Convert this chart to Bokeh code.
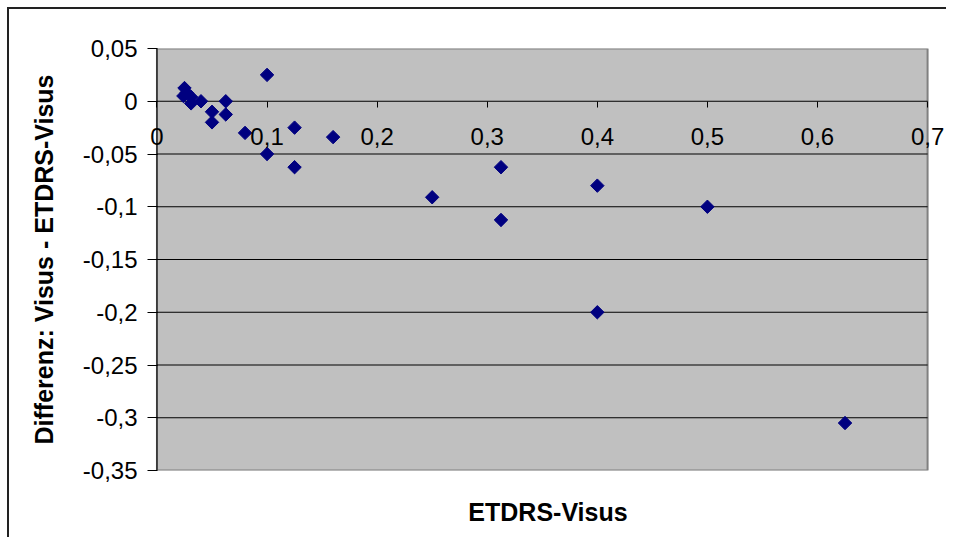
import math
from bokeh.plotting import figure
from bokeh.models import LinearAxis, FixedTicker, CustomJSTickFormatter, Range1d, Label
from bokeh.embed import file_html
from bokeh.resources import INLINE

# ---- data ----
etdrs_visus = [0.1, 0.025, 0.027, 0.024, 0.031, 0.031, 0.04, 0.0625, 0.05, 0.0625,
               0.05, 0.08, 0.1, 0.125, 0.125, 0.16, 0.25, 0.3125, 0.3125, 0.4,
               0.4, 0.5, 0.625]
differenz = [0.025, 0.0125, 0.008, 0.005, 0.004, -0.002, 0.0, 0.0, -0.01, -0.0125,
             -0.02, -0.03, -0.05, -0.025, -0.0625, -0.034, -0.091, -0.0625, -0.1125, -0.08,
             -0.2, -0.1, -0.305]

x_ticks = [0, 0.1, 0.2, 0.3, 0.4, 0.5, 0.6, 0.7]
x_tick_labels = ["0", "0,1", "0,2", "0,3", "0,4", "0,5", "0,6", "0,7"]
y_ticks = [0.05, 0, -0.05, -0.1, -0.15, -0.2, -0.25, -0.3, -0.35]

x_title = "ETDRS-Visus"
y_title = "Differenz: Visus - ETDRS-Visus"

x_min, x_max = 0.0, 0.7
y_min, y_max = -0.35, 0.05

FONT = "Liberation Sans"
fmt = CustomJSTickFormatter(code="""
let s = tick.toFixed(2);
s = s.replace(/0+$/, '').replace(/\\.$/, '');
if (s === '-0' || s === '') s = '0';
return s.replace('.', ',');
""")

p = figure(width=939, height=530, output_backend="svg", toolbar_location=None,
           x_range=Range1d(-0.0086, 0.719), y_range=Range1d(y_min, y_max),
           min_border_left=138, min_border_top=39, min_border_right=0, min_border_bottom=69,
           background_fill_color="white", border_fill_color="white",
           outline_line_color=None)
p.styles = {"margin": "7px 0 0 7px",
            "border-left": "2px solid #222222", "border-top": "2px solid #222222"}

p.xgrid.visible = False
p.ygrid.visible = False

# plot area
p.quad(left=[x_min], right=[x_max], bottom=[y_min], top=[y_max],
       fill_color="#C0C0C0", line_color="#808080", line_width=2)
inner = y_ticks[1:-1]
p.segment(x0=[x_min] * len(inner), y0=inner, x1=[x_max] * len(inner), y1=inner,
          line_color="black", line_width=1)
p.segment(x0=[x_min], y0=[y_min], x1=[x_min], y1=[y_max], line_color="black", line_width=1)

# y axis
ya = p.yaxis[0]
ya.ticker = FixedTicker(ticks=y_ticks)
ya.formatter = fmt
ya.axis_label = y_title
ya.axis_label_text_font = FONT
ya.axis_label_text_font_style = "bold"
ya.axis_label_text_font_size = "25px"
ya.axis_label_text_color = "black"
ya.axis_label_standoff = 22
ya.major_label_text_font = FONT
ya.major_label_text_font_size = "24px"
ya.major_label_text_color = "black"
ya.major_label_standoff = 10
ya.major_tick_out = 0
ya.major_tick_in = 10
ya.minor_tick_line_color = None
ya.axis_line_color = None
ya.major_tick_line_color = "black"

# bottom axis only carries the title
xb = p.xaxis[0]
xb.ticker = FixedTicker(ticks=[])
xb.axis_line_color = None
xb.major_tick_out = 0
xb.major_tick_in = 0
xb.minor_tick_line_color = None
xb.major_label_standoff = 0
xb.axis_label = x_title
xb.axis_label_text_font = FONT
xb.axis_label_text_font_style = "bold"
xb.axis_label_text_font_size = "25px"
xb.axis_label_text_color = "black"
xb.axis_label_standoff = 27

# x axis crossing at y = 0 (ticks only), labels below
xa = LinearAxis(fixed_location=0, ticker=FixedTicker(ticks=x_ticks),
                axis_line_color=None, major_tick_line_color="black",
                major_tick_out=6, major_tick_in=0, minor_tick_line_color=None,
                major_label_text_color=None, major_label_text_font_size="0px")
p.add_layout(xa, "below")

for xv, lab in zip(x_ticks, x_tick_labels):
    p.add_layout(Label(x=xv, y=0, text=lab, y_offset=-35,
                       text_align="center", text_baseline="middle",
                       text_font=FONT, text_font_size="24px", text_color="black"))

p.scatter(etdrs_visus, differenz, marker="square", angle=math.pi / 4, size=9.5,
          fill_color="#000080", line_color="#000080")

open("out.html", "w").write(file_html(p, INLINE))
